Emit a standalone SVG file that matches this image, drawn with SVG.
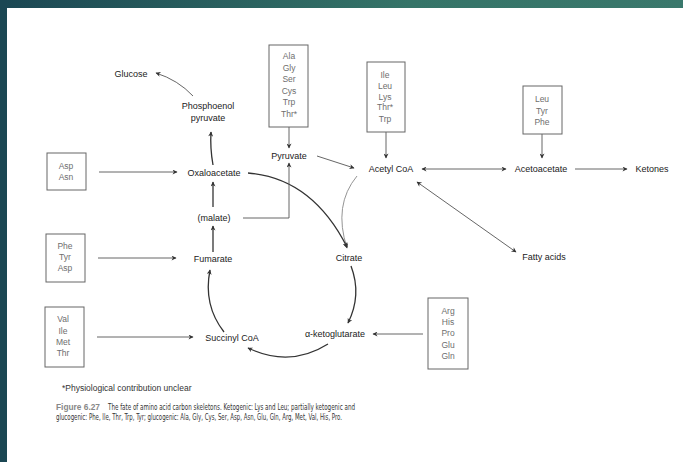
<svg xmlns="http://www.w3.org/2000/svg" width="683" height="462" viewBox="0 0 683 462">
<defs>
<linearGradient id="band" x1="0" y1="0" x2="1" y2="0">
<stop offset="0" stop-color="#1b4753"/>
<stop offset="0.6" stop-color="#357468"/>
<stop offset="1" stop-color="#3a786c"/>
</linearGradient>
<marker id="ah" viewBox="0 0 10 10" refX="9" refY="5" markerWidth="7" markerHeight="5" markerUnits="userSpaceOnUse" orient="auto-start-reverse">
<path d="M0,0 L10,5 L0,10 L3,5 z" fill="#333"/>
</marker>
</defs>
<style>
.lbl{font-family:"Liberation Sans",Arial,sans-serif;font-size:9px;fill:#222;text-anchor:middle}
.aa{font-family:"Liberation Sans",Arial,sans-serif;font-size:8.5px;fill:#6e6e6e;text-anchor:middle}
.box{fill:#fff;stroke:#666;stroke-width:1}
.ln{fill:none;stroke:#555;stroke-width:0.9}
.thk{fill:none;stroke:#333;stroke-width:1.3}
.thin{fill:none;stroke:#888;stroke-width:0.9}
.note{font-family:"Liberation Sans",Arial,sans-serif;font-size:8.5px;fill:#333}
.cap{font-family:"Liberation Sans Narrow","DejaVu Sans Condensed","Liberation Sans",sans-serif;font-size:8px;fill:#333}
.fig{font-family:"Liberation Sans",Arial,sans-serif;font-size:8.5px;font-weight:bold;fill:#888}
</style>
<rect x="0" y="0" width="683" height="462" fill="#fff"/>
<rect x="0" y="0" width="683" height="8" fill="url(#band)"/>
<rect x="0" y="0" width="7" height="462" fill="#1b4753"/>

<g id="connectors">
<path class="ln" d="M193,96 Q178,80 156,73" marker-end="url(#ah)"/>
<path class="thk" d="M213,165 Q210,148 211,132" marker-end="url(#ah)"/>
<path class="ln" d="M99,172 L177,172" marker-end="url(#ah)"/>
<path class="ln" d="M289,127 L289,148" marker-end="url(#ah)"/>
<path class="ln" d="M317,156 L354,168" marker-end="url(#ah)"/>
<path class="ln" d="M386,132 L386,158" marker-end="url(#ah)"/>
<path class="ln" d="M422,169 L506,169" marker-start="url(#ah)" marker-end="url(#ah)"/>
<path class="ln" d="M542,134 L542,158" marker-end="url(#ah)"/>
<path class="ln" d="M575,169 L627,169" marker-end="url(#ah)"/>
<path class="ln" d="M417,182 L516,252" marker-start="url(#ah)" marker-end="url(#ah)"/>
<path class="thin" d="M357,176 Q333,205 347,248" marker-end="url(#ah)"/>
<path class="thk" d="M248,173 Q312,178 347,247" marker-end="url(#ah)"/>
<path class="thk" d="M351,266 Q362,295 348,323" marker-end="url(#ah)"/>
<path class="ln" d="M423,334 L373,334" marker-end="url(#ah)"/>
<path class="thk" d="M328,344 Q290,368 248,348" marker-end="url(#ah)"/>
<path class="ln" d="M97,337 L193,337" marker-end="url(#ah)"/>
<path class="thk" d="M224,332 Q203,305 210,270" marker-end="url(#ah)"/>
<path class="ln" d="M98,258 L176,258" marker-end="url(#ah)"/>
<path class="thk" d="M213,252 L213,226" marker-end="url(#ah)"/>
<path class="thk" d="M213,207 L213,182" marker-end="url(#ah)"/>
<path class="ln" d="M243,218 L289,218 L289,163" marker-end="url(#ah)"/>
</g>

<g id="glucose"><text class="lbl" x="131" y="77">Glucose</text></g>
<g id="pep"><text class="lbl" x="208" y="109">Phosphoenol</text><text class="lbl" x="208" y="121">pyruvate</text></g>
<g id="oxaloacetate"><text class="lbl" x="214" y="176">Oxaloacetate</text></g>
<g id="malate"><text class="lbl" x="214" y="221">(malate)</text></g>
<g id="fumarate"><text class="lbl" x="213" y="262">Fumarate</text></g>
<g id="succinylcoa"><text class="lbl" x="232" y="341">Succinyl CoA</text></g>
<g id="aketoglutarate"><text class="lbl" x="335" y="337">α-ketoglutarate</text></g>
<g id="citrate"><text class="lbl" x="349" y="261">Citrate</text></g>
<g id="pyruvate"><text class="lbl" x="289" y="159">Pyruvate</text></g>
<g id="acetylcoa"><text class="lbl" x="391" y="172">Acetyl CoA</text></g>
<g id="acetoacetate"><text class="lbl" x="541" y="172">Acetoacetate</text></g>
<g id="ketones"><text class="lbl" x="652" y="172">Ketones</text></g>
<g id="fattyacids"><text class="lbl" x="544" y="260">Fatty acids</text></g>

<g id="box-asp-asn">
<rect class="box" x="47" y="153" width="39" height="37"/>
<text class="aa" x="66" y="169">Asp</text><text class="aa" x="66" y="180">Asn</text>
</g>
<g id="box-phe-tyr-asp">
<rect class="box" x="46" y="234" width="39" height="48"/>
<text class="aa" x="65" y="249">Phe</text><text class="aa" x="65" y="260">Tyr</text><text class="aa" x="65" y="271">Asp</text>
</g>
<g id="box-val-ile-met-thr">
<rect class="box" x="45" y="307" width="39" height="60"/>
<text class="aa" x="63" y="322">Val</text><text class="aa" x="63" y="334">Ile</text><text class="aa" x="63" y="345">Met</text><text class="aa" x="63" y="356">Thr</text>
</g>
<g id="box-ala">
<rect class="box" x="269" y="45" width="39" height="82"/>
<text class="aa" x="289" y="59">Ala</text><text class="aa" x="289" y="71">Gly</text><text class="aa" x="289" y="82">Ser</text><text class="aa" x="289" y="94">Cys</text><text class="aa" x="289" y="105">Trp</text><text class="aa" x="289" y="117">Thr*</text>
</g>
<g id="box-ile">
<rect class="box" x="367" y="62" width="38" height="70"/>
<text class="aa" x="385" y="78">Ile</text><text class="aa" x="385" y="89">Leu</text><text class="aa" x="385" y="100">Lys</text><text class="aa" x="385" y="110">Thr*</text><text class="aa" x="385" y="122">Trp</text>
</g>
<g id="box-leu-tyr-phe">
<rect class="box" x="523" y="86" width="39" height="48"/>
<text class="aa" x="542" y="102">Leu</text><text class="aa" x="542" y="114">Tyr</text><text class="aa" x="542" y="125">Phe</text>
</g>
<g id="box-arg">
<rect class="box" x="428" y="298" width="40" height="71"/>
<text class="aa" x="448" y="314">Arg</text><text class="aa" x="448" y="325">His</text><text class="aa" x="448" y="336">Pro</text><text class="aa" x="448" y="348">Glu</text><text class="aa" x="448" y="359">Gln</text>
</g>

<text class="note" x="62" y="391">*Physiological contribution unclear</text>
<text class="fig" x="56" y="410" textLength="44" lengthAdjust="spacingAndGlyphs">Figure 6.27</text>
<text class="cap" x="108" y="410" textLength="247" lengthAdjust="spacingAndGlyphs">The fate of amino acid carbon skeletons. Ketogenic: Lys and Leu; partially ketogenic and</text>
<text class="cap" x="56" y="420" textLength="286" lengthAdjust="spacingAndGlyphs">glucogenic: Phe, Ile, Thr, Trp, Tyr; glucogenic: Ala, Gly, Cys, Ser, Asp, Asn, Glu, Gln, Arg, Met, Val, His, Pro.</text>
</svg>
